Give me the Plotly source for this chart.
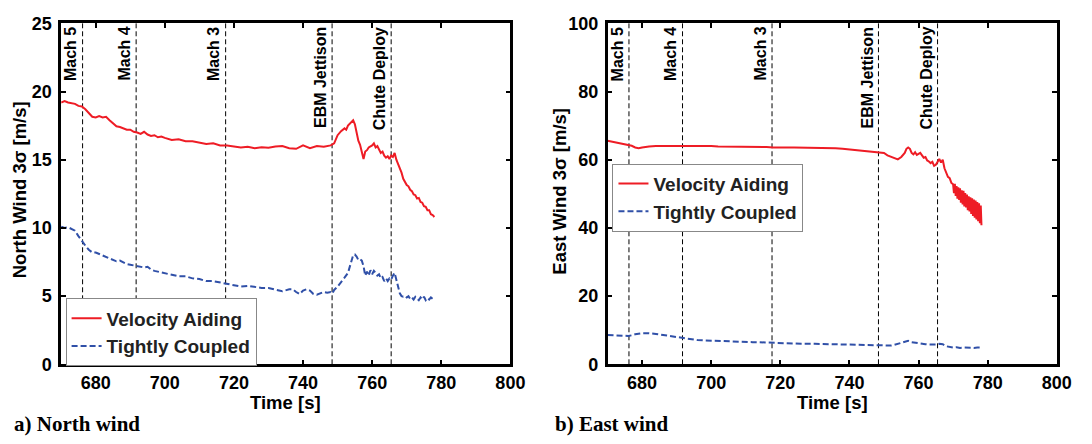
import plotly.graph_objects as go

# ---------------- data ----------------
# North wind, Velocity Aiding
north_va_t = [670, 671, 672, 673, 674, 675, 676, 677, 678, 679, 680, 681, 682, 683, 684, 685, 686, 687, 688, 689,
              690, 691, 692, 693, 694, 695, 696, 697, 698, 699, 700, 702, 704, 706, 708, 710, 712, 714, 716, 718,
              720, 722, 724, 726, 728, 730, 732, 734, 736, 738, 740, 742, 744, 746, 748, 749, 750, 751, 752, 752.5,
              753, 754, 754.5, 755, 756, 756.5, 757, 757.5, 758, 758.5, 759, 760, 760.5, 761, 761.5, 762, 762.5, 763,
              763.5, 764, 764.5, 765, 765.5, 766, 766.5, 767, 767.5, 768, 768.5, 769, 769.5, 770, 770.5, 771, 771.5,
              772, 772.5, 773, 773.5, 774, 774.5, 775, 775.5, 776, 776.5, 777, 777.5, 778]
north_va = [19.2, 19.3, 19.2, 19.15, 19.1, 18.95, 18.9, 18.7, 18.45, 18.15, 18.1, 18.2, 18.1, 18.15, 17.9, 17.7,
            17.45, 17.4, 17.3, 17.2, 17.2, 17.05, 17.0, 16.9, 17.05, 16.85, 16.75, 16.8, 16.65, 16.7, 16.6, 16.45,
            16.5, 16.35, 16.35, 16.25, 16.15, 16.2, 16.05, 16.05, 16.0, 15.9, 15.95, 15.85, 15.92, 15.88, 15.97,
            16.0, 15.85, 15.8, 16.05, 15.85, 16.0, 15.95, 16.05, 16.2, 16.8, 17.1, 17.3, 17.2, 17.5, 17.8, 17.9,
            17.6, 16.4, 16.1, 15.6, 15.05, 15.6, 15.7, 15.9, 16.05, 16.2, 15.9, 16.0, 15.7, 15.5, 15.6, 15.3, 15.15,
            15.25, 15.05, 15.3, 15.2, 15.5, 15.0, 14.7, 14.3, 14.05, 13.6, 13.35, 13.15, 13.05, 12.8, 12.7, 12.45,
            12.4, 12.15, 12.2, 11.9, 11.85, 11.6, 11.55, 11.3, 11.3, 11.0, 10.95, 10.8]

# North wind, Tightly Coupled
north_tc_t = [670, 671, 672, 673, 674, 675, 676, 677, 678, 679, 680, 681, 682, 683, 684, 685, 686, 687, 688, 689,
              690, 691, 692, 693, 694, 695, 696, 697, 698, 700, 702, 704, 706, 708, 710, 712, 714, 716, 718, 720,
              722, 724, 726, 728, 730, 732, 734, 736, 737, 738, 739, 740, 741, 742, 743, 744, 745, 746, 747, 748,
              748.5, 749, 750, 751, 752, 753, 753.5, 754, 754.5, 755, 755.5, 756, 756.5, 757, 757.5, 758, 758.5,
              759, 759.5, 760, 760.5, 761, 761.5, 762, 762.5, 763, 763.5, 764, 764.5, 765, 765.5, 766, 766.5, 767,
              767.5, 768, 768.5, 769, 769.5, 770, 770.5, 771, 771.5, 772, 772.5, 773, 773.5, 774, 774.5, 775,
              775.5, 776, 776.5, 777, 777.5, 778]
north_tc = [10.1, 10.0, 10.05, 9.9, 9.8, 9.4, 9.0, 8.7, 8.4, 8.2, 8.2, 8.1, 8.0, 7.9, 7.8, 7.7, 7.55, 7.6, 7.45,
            7.35, 7.3, 7.25, 7.2, 7.2, 7.1, 7.15, 6.95, 6.85, 6.8, 6.7, 6.6, 6.45, 6.45, 6.3, 6.25, 6.1, 6.1, 6.0,
            5.95, 5.85, 5.7, 5.75, 5.65, 5.6, 5.6, 5.5, 5.35, 5.5, 5.5, 5.3, 5.15, 5.4, 5.5, 5.4, 5.15, 5.1, 5.2,
            5.3, 5.25, 5.3, 5.2, 5.45, 5.7, 6.0, 6.35, 6.7, 7.2, 7.7, 8.0, 8.05, 7.9, 7.65, 7.7, 7.6, 7.2, 6.5,
            6.8, 6.5, 6.9, 6.6, 6.85, 6.7, 6.5, 6.6, 6.3, 6.4, 6.1, 6.3, 6.1, 6.3, 6.2, 6.5, 6.7, 6.2, 5.6, 5.2,
            5.0, 4.95, 5.0, 4.9, 5.0, 4.8, 4.9, 4.75, 4.95, 4.8, 4.7, 4.9, 4.75, 4.95, 4.7, 4.85, 4.75, 4.9, 4.8,
            4.85]

# East wind, Velocity Aiding
east_va_t = [670, 671, 672, 673, 674, 675, 676, 677, 678, 679, 680, 681, 682, 684, 686, 688, 690, 692, 694, 696,
             698, 700, 702, 704, 706, 708, 710, 712, 714, 716, 718, 720, 722, 724, 726, 728, 730, 732, 734, 736,
             738, 740, 742, 744, 746, 748, 749, 750, 751, 752, 753, 754, 755, 756, 756.5, 757, 757.5, 758, 758.5,
             759, 759.5, 760, 760.5, 761, 761.5, 762, 762.5, 763, 763.5, 764, 764.5, 765, 765.5, 766, 766.5, 767,
             767.5, 768, 768.5, 769, 769.5, 770, 770.25, 770.5, 770.75, 771, 771.25, 771.5, 771.75, 772, 772.25,
             772.5, 772.75, 773, 773.25, 773.5, 773.75, 774, 774.25, 774.5, 774.75, 775, 775.25, 775.5, 775.75,
             776, 776.25, 776.5, 776.75, 777, 777.25, 777.5, 777.75, 778, 778.2]
east_va = [65.6, 65.4, 65.2, 65.0, 64.8, 64.6, 64.4, 64.1, 63.6, 63.4, 63.6, 63.8, 63.9, 64.0, 64.0, 64.1, 64.0,
           64.1, 64.0, 64.2, 64.0, 64.0, 63.9, 63.9, 63.9, 63.8, 63.8, 63.8, 63.7, 63.7, 63.6, 63.7, 63.6, 63.6,
           63.6, 63.6, 63.6, 63.5, 63.6, 63.4, 63.2, 63.0, 63.0, 62.8, 62.4, 62.4, 62.2, 62.0, 61.3, 60.9, 60.3,
           60.1, 60.8, 62.0, 63.2, 63.6, 63.2, 62.0, 61.6, 62.2, 61.4, 61.6, 62.0, 61.3, 60.6, 60.8, 59.8, 59.5,
           59.0, 59.4, 58.2, 58.5, 59.5, 60.2, 59.2, 60.0, 57.5, 56.4, 55.0, 54.6, 53.2, 52.8, 50.2, 52.9, 49.4,
           52.3, 48.6, 51.9, 48.2, 51.6, 47.4, 51.0, 46.9, 50.9, 46.3, 50.2, 46.0, 49.8, 45.2, 49.3, 44.8, 49.0,
           44.1, 48.7, 43.5, 48.3, 43.0, 48.0, 42.5, 47.6, 42.0, 47.2, 41.4, 46.6, 40.8, 46.0, 40.0, 45.6, 39.4]

# East wind, Tightly Coupled
east_tc_t = [670, 672, 674, 676, 677, 678, 680, 681, 682, 684, 686, 688, 690, 692, 694, 696, 698, 700, 704, 708,
             712, 716, 718, 722, 726, 730, 734, 738, 742, 746, 748, 750, 752, 753, 754, 755, 756, 757, 758, 759,
             760, 761, 762, 763, 764, 765, 766, 767, 768, 769, 770, 771, 772, 773, 774, 775, 776, 777, 778]
east_tc = [8.6, 8.5, 8.4, 8.3, 8.5, 8.8, 9.1, 9.2, 9.1, 8.9, 8.6, 8.3, 8.0, 7.6, 7.3, 7.1, 7.0, 6.9, 6.8, 6.7,
           6.5, 6.4, 6.3, 6.1, 6.0, 6.0, 5.9, 5.8, 5.7, 5.6, 5.5, 5.5, 5.5, 5.7, 6.0, 6.3, 6.5, 6.9, 6.5, 6.3,
           6.2, 6.0, 5.9, 5.8, 5.7, 5.8, 6.0, 5.9, 5.3, 5.0, 4.9, 5.0, 4.8, 4.9, 4.8, 4.9, 4.8, 4.9, 4.9]

event_times = [676.2, 691.7, 717.6, 748.4, 765.5]
event_labels = ["Mach 5", "Mach 4", "Mach 3", "EBM Jettison", "Chute Deploy"]

x_ticks = [680, 700, 720, 740, 760, 780, 800]
north_y_ticks = [0, 5, 10, 15, 20, 25]
east_y_ticks = [0, 20, 40, 60, 80, 100]

RED = "#EE1C25"
BLUE = "#3050A8"
SANS = "Liberation Sans"

# ---------------- figure ----------------
W, H = 1092, 444
fig = go.Figure()

fig.add_trace(go.Scatter(x=north_va_t, y=north_va, mode="lines", name="Velocity Aiding",
                         line=dict(color=RED, width=2), xaxis="x", yaxis="y", legend="legend"))
fig.add_trace(go.Scatter(x=north_tc_t, y=north_tc, mode="lines", name="Tightly Coupled",
                         line=dict(color=BLUE, width=2, dash="6px,3px"), xaxis="x", yaxis="y", legend="legend"))
fig.add_trace(go.Scatter(x=east_va_t, y=east_va, mode="lines", name="Velocity Aiding",
                         line=dict(color=RED, width=2), xaxis="x2", yaxis="y2", legend="legend2"))
fig.add_trace(go.Scatter(x=east_tc_t, y=east_tc, mode="lines", name="Tightly Coupled",
                         line=dict(color=BLUE, width=2, dash="6px,3px"), xaxis="x2", yaxis="y2", legend="legend2"))

tickfont = dict(family=SANS, size=18, color="black", weight="bold")
common_axis = dict(showline=True, linecolor="black", linewidth=2.5, mirror="allticks",
                   ticks="inside", ticklen=5, tickwidth=2, tickcolor="black",
                   showgrid=False, zeroline=False, tickfont=tickfont)

dom_y = [1 - 371 / H, 1 - 14 / H]
dom_x1 = [62 / W, 517.5 / W]
dom_x2 = [616 / W, 1071.5 / W]

fig.update_layout(
    width=W, height=H,
    margin=dict(l=0, r=0, t=0, b=0),
    paper_bgcolor="white", plot_bgcolor="white",
    xaxis=dict(domain=dom_x1, range=[670, 800], tickvals=x_ticks, anchor="y", **common_axis),
    yaxis=dict(domain=dom_y, range=[0, 25], tickvals=north_y_ticks, anchor="x", ticklabelstandoff=3, **common_axis),
    xaxis2=dict(domain=dom_x2, range=[670, 800], tickvals=x_ticks, anchor="y2", **common_axis),
    yaxis2=dict(domain=dom_y, range=[0, 100], tickvals=east_y_ticks, anchor="x2", ticklabelstandoff=3, **common_axis),
    legend=dict(x=66.5 / W, y=1 - 302 / H, xanchor="left", yanchor="top",
                bgcolor="white", bordercolor="#888888", borderwidth=1,
                font=dict(family=SANS, size=19, color="#222222", weight="bold"), tracegroupgap=0),
    legend2=dict(x=621 / W, y=1 - 161 / H, xanchor="left", yanchor="top",
                 bgcolor="white", bordercolor="#888888", borderwidth=1,
                 font=dict(family=SANS, size=19, color="#222222", weight="bold"), tracegroupgap=0),
    showlegend=True,
)

shapes = []
annotations = []
for xa, ya in [("x", "y"), ("x2", "y2")]:
    for t, lab in zip(event_times, event_labels):
        shapes.append(dict(type="line", xref=xa, yref=ya + " domain", x0=t, x1=t, y0=0, y1=1,
                           line=dict(color="black", width=1, dash="5px,3px"), layer="below"))
        annotations.append(dict(text=lab, xref=xa, yref=ya + " domain", x=t, y=0.966, yshift=10,
                                xanchor="right", yanchor="top", textangle=-90, showarrow=False,
                                xshift=-1, font=dict(family=SANS, size=16, color="black", weight="bold")))

title_font = dict(family=SANS, size=18.5, color="black", weight="bold")
annotations += [
    dict(text="North Wind 3σ [m/s]", xref="paper", yref="paper", x=20 / W, y=1 - 188 / H,
         xanchor="center", yanchor="middle", textangle=-90, showarrow=False, font=title_font),
    dict(text="East Wind 3σ [m/s]", xref="paper", yref="paper", x=567 / W, y=1 - 190 / H,
         xanchor="center", yanchor="middle", textangle=-90, showarrow=False, font=title_font),
    dict(text="Time [s]", xref="paper", yref="paper", x=(dom_x1[0] + dom_x1[1]) / 2, y=1 - 410.5 / H,
         xanchor="center", yanchor="middle", showarrow=False, font=title_font),
    dict(text="Time [s]", xref="paper", yref="paper", x=(dom_x2[0] + dom_x2[1]) / 2, y=1 - 410.5 / H,
         xanchor="center", yanchor="middle", showarrow=False, font=title_font),
    dict(text="a) North wind", xref="paper", yref="paper", x=12 / W, y=1 - 433.5 / H,
         xanchor="left", yanchor="middle", showarrow=False,
         font=dict(family="Liberation Serif", size=21, color="black", weight="bold")),
    dict(text="b) East wind", xref="paper", yref="paper", x=561 / W, y=1 - 433.5 / H,
         xanchor="left", yanchor="middle", showarrow=False,
         font=dict(family="Liberation Serif", size=21, color="black", weight="bold")),
]
fig.update_layout(shapes=shapes, annotations=annotations)

fig.write_html("out.html")
